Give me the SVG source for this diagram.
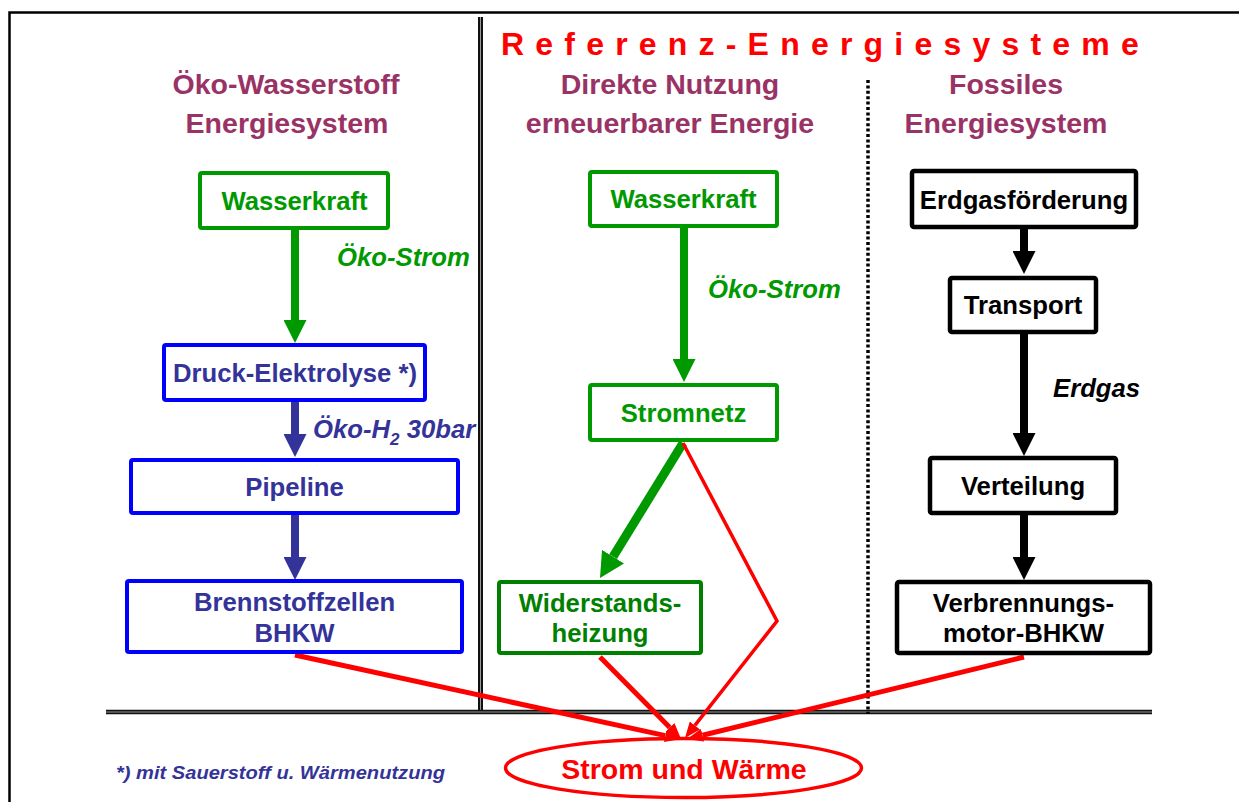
<svg xmlns="http://www.w3.org/2000/svg" width="1239" height="802" viewBox="0 0 1239 802">
<defs>
<style>
text{font-family:"Liberation Sans",Arial,Helvetica,sans-serif;font-weight:bold;}
.hdr{font-size:28.5px;fill:#993366;text-anchor:middle;}
.t{font-size:25.7px;text-anchor:middle;}
.lbl{font-size:25.7px;font-style:italic;}
.g{fill:#009900;}
.dg{fill:#008000;}
.b{fill:#333399;}
.k{fill:#000000;}
.bx{fill:#ffffff;stroke-width:4;}
.bxg{stroke:#009900;}
.bxdg{stroke:#008000;}
.bxb{stroke:#0000ff;}
.bxk{stroke:#000000;stroke-width:4.5;}
.red{stroke:#ff0000;fill:none;stroke-linejoin:miter;}
</style>
<marker id="hg" markerUnits="userSpaceOnUse" viewBox="0 0 23 23" markerWidth="23" markerHeight="23" refX="0" refY="11.5" orient="auto"><path d="M0,0 L23,11.5 L0,23 z" fill="#009900"/></marker>
<marker id="hg2" markerUnits="userSpaceOnUse" viewBox="0 0 25 26" markerWidth="25" markerHeight="26" refX="0" refY="13" orient="auto"><path d="M0,0 L25,13 L0,26 z" fill="#009900"/></marker>
<marker id="hb" markerUnits="userSpaceOnUse" viewBox="0 0 23 23" markerWidth="23" markerHeight="23" refX="0" refY="11.5" orient="auto"><path d="M0,0 L23,11.5 L0,23 z" fill="#333399"/></marker>
<marker id="hk" markerUnits="userSpaceOnUse" viewBox="0 0 23 23" markerWidth="23" markerHeight="23" refX="0" refY="11.5" orient="auto"><path d="M0,0 L23,11.5 L0,23 z" fill="#000000"/></marker>
<marker id="hr" markerUnits="userSpaceOnUse" viewBox="0 0 16 13" markerWidth="16" markerHeight="13" refX="0" refY="6.5" orient="auto"><path d="M0,0 L16,6.5 L0,13 z" fill="#ff0000"/></marker>
</defs>
<rect x="0" y="0" width="1239" height="802" fill="#ffffff"/>

<g id="frame">
<path d="M9.5,802 V12.5 H1239" fill="none" stroke="#000" stroke-width="2.5"/>
<line x1="480.5" y1="17" x2="480.5" y2="712" stroke="#111" stroke-width="5"/>
<line x1="480.5" y1="17" x2="480.5" y2="712" stroke="#999" stroke-width="1"/>
<line x1="106" y1="712" x2="1152" y2="712" stroke="#111" stroke-width="4.5"/>
<line x1="106" y1="712" x2="1152" y2="712" stroke="#999" stroke-width="1"/>
<line x1="868" y1="80" x2="868" y2="714" stroke="#000" stroke-width="3.5" stroke-dasharray="3 2.4"/>
</g>

<g id="titles">
<text x="501" y="55" font-size="32" fill="#ff0000" letter-spacing="11.2">Referenz-Energiesysteme</text>
<text class="hdr" x="286" y="94">Öko-Wasserstoff</text>
<text class="hdr" x="287" y="133">Energiesystem</text>
<text class="hdr" x="670" y="94">Direkte Nutzung</text>
<text class="hdr" x="670" y="133">erneuerbarer Energie</text>
<text class="hdr" x="1006" y="94">Fossiles</text>
<text class="hdr" x="1006" y="133">Energiesystem</text>
</g>

<g id="connectors">
<line x1="295" y1="230" x2="295" y2="320" stroke="#009900" stroke-width="8" marker-end="url(#hg)"/>
<line x1="295" y1="402" x2="295" y2="434" stroke="#333399" stroke-width="8" marker-end="url(#hb)"/>
<line x1="295" y1="515" x2="295" y2="557" stroke="#333399" stroke-width="8" marker-end="url(#hb)"/>
<line x1="684" y1="228" x2="684" y2="359" stroke="#009900" stroke-width="8" marker-end="url(#hg)"/>
<line x1="683" y1="443" x2="613.1" y2="556.7" stroke="#009900" stroke-width="9" marker-end="url(#hg2)"/>
<line x1="1024" y1="229" x2="1024" y2="251" stroke="#000" stroke-width="8" marker-end="url(#hk)"/>
<line x1="1024" y1="334" x2="1024" y2="433" stroke="#000" stroke-width="8" marker-end="url(#hk)"/>
<line x1="1024" y1="515" x2="1024" y2="557" stroke="#000" stroke-width="8" marker-end="url(#hk)"/>
<line class="red" x1="295" y1="655" x2="665.4" y2="735.6" stroke-width="5" marker-end="url(#hr)"/>
<line class="red" x1="600" y1="657" x2="669.8" y2="727.6" stroke-width="5" marker-end="url(#hr)"/>
<polyline class="red" points="683,443 777,621 694.9,725.4" stroke-width="3.5" marker-end="url(#hr)"/>
<line class="red" x1="1024" y1="657" x2="702.5" y2="735.2" stroke-width="5" marker-end="url(#hr)"/>
<text class="lbl g" x="337" y="266">Öko-Strom</text>
<text class="lbl b" x="313" y="438">Öko-H<tspan font-size="17" dy="7">2</tspan><tspan dy="-7"> 30bar</tspan></text>
<text class="lbl g" x="708" y="298">Öko-Strom</text>
<text class="lbl k" x="1053" y="397">Erdgas</text>
</g>

<g id="n-wasserkraft-1">
<rect class="bx bxg" x="200" y="173" width="188" height="55" rx="2"/>
<text class="t g" x="294.5" y="210">Wasserkraft</text>
</g>
<g id="n-druck-elektrolyse">
<rect class="bx bxb" x="164" y="345" width="261" height="55" rx="2"/>
<text class="t b" x="295" y="382">Druck-Elektrolyse *)</text>
</g>
<g id="n-pipeline">
<rect class="bx bxb" x="131" y="460" width="327" height="53" rx="2"/>
<text class="t b" x="294.5" y="496">Pipeline</text>
</g>
<g id="n-brennstoffzellen">
<rect class="bx bxb" x="127" y="581" width="335" height="71" rx="2"/>
<text class="t b" x="294.5" y="611">Brennstoffzellen</text>
<text class="t b" x="294.5" y="642">BHKW</text>
</g>

<g id="n-wasserkraft-2">
<rect class="bx bxg" x="590" y="172" width="187" height="54" rx="2"/>
<text class="t g" x="683.5" y="208">Wasserkraft</text>
</g>
<g id="n-stromnetz">
<rect class="bx bxg" x="590" y="385" width="187" height="55" rx="2"/>
<text class="t g" x="683.5" y="422">Stromnetz</text>
</g>
<g id="n-widerstandsheizung">
<rect class="bx bxdg" x="499" y="582" width="202" height="71" rx="2"/>
<text class="t dg" x="600" y="612">Widerstands-</text>
<text class="t dg" x="600" y="642">heizung</text>
</g>

<g id="n-erdgasfoerderung">
<rect class="bx bxk" x="912" y="171" width="224" height="56" rx="2"/>
<text class="t k" x="1024" y="209">Erdgasförderung</text>
</g>
<g id="n-transport">
<rect class="bx bxk" x="950" y="278" width="146" height="54" rx="2"/>
<text class="t k" x="1023" y="314">Transport</text>
</g>
<g id="n-verteilung">
<rect class="bx bxk" x="930" y="458" width="186" height="55" rx="2"/>
<text class="t k" x="1023" y="495">Verteilung</text>
</g>
<g id="n-verbrennungsmotor">
<rect class="bx bxk" x="897" y="582" width="253" height="71" rx="2"/>
<text class="t k" x="1023.5" y="612">Verbrennungs-</text>
<text class="t k" x="1023.5" y="642">motor-BHKW</text>
</g>

<g id="n-strom-waerme">
<ellipse cx="683.5" cy="768" rx="178" ry="29.5" fill="none" stroke="#ff0000" stroke-width="3.5"/>
<text x="684" y="779" font-size="28.5" fill="#ff0000" text-anchor="middle">Strom und Wärme</text>
</g>

<g id="footnote">
<text x="116" y="779" font-size="18.5" font-style="italic" fill="#333399" textLength="329" lengthAdjust="spacingAndGlyphs">*) mit Sauerstoff u. Wärmenutzung</text>
</g>
</svg>
